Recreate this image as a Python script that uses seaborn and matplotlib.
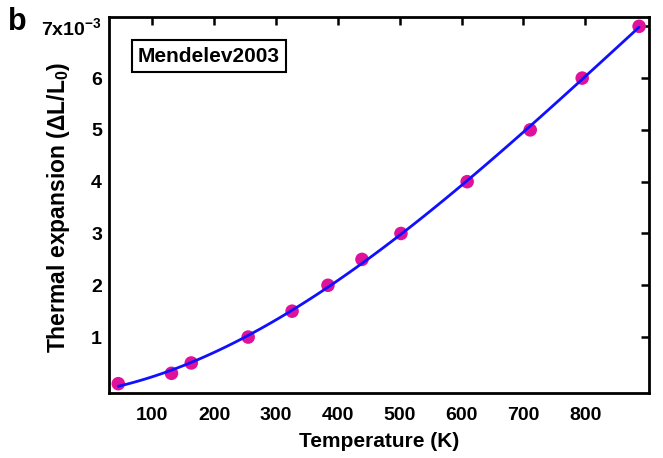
import numpy as np
import pandas as pd
import matplotlib
matplotlib.use("Agg")
import matplotlib.pyplot as plt
import seaborn as sns

# data
temperature = [45, 131, 163, 255, 326, 384, 439, 502, 609, 711, 795, 887]
expansion = [0.1e-3, 0.3e-3, 0.5e-3, 1.0e-3, 1.5e-3, 2.0e-3, 2.5e-3, 3.0e-3,
             4.0e-3, 5.0e-3, 6.0e-3, 7.0e-3]
xticks = [100, 200, 300, 400, 500, 600, 700, 800]
yticks = [1e-3, 2e-3, 3e-3, 4e-3, 5e-3, 6e-3, 7e-3]
ytick_labels = ["1", "2", "3", "4", "5", "6", "7x10$^{-3}$"]
legend_text = "Mendelev2003"

df = pd.DataFrame({"T": temperature, "dL": expansion})

sns.set_style("white")
plt.rcParams["font.family"] = ["Liberation Sans", "DejaVu Sans"]
plt.rcParams["font.weight"] = "bold"
plt.rcParams["mathtext.default"] = "regular"
plt.rcParams["text.color"] = "black"
plt.rcParams["axes.labelcolor"] = "black"
plt.rcParams["xtick.color"] = "black"
plt.rcParams["ytick.color"] = "black"

fig = plt.figure(figsize=(6.63, 4.58), dpi=100)
ax = fig.add_axes([109/663, 1-393/458, (649-109)/663, (393-17)/458])

sns.regplot(data=df, x="T", y="dL", order=3, ci=None, ax=ax,
            scatter_kws=dict(s=95, color="#e0129a", edgecolor="none", alpha=1, zorder=2),
            line_kws=dict(color="#1010ff", lw=2, zorder=3))

ax.set_xlim(30, 903)
ax.set_ylim(-0.08e-3, 7.18e-3)
ax.set_xticks(xticks)
ax.set_xticklabels([str(t) for t in xticks], fontsize=14, fontweight="bold")
ax.set_yticks(yticks)
ax.set_yticklabels(ytick_labels, fontsize=14, fontweight="bold")
ax.tick_params(direction="in", length=6, width=1.8, top=True, right=True,
               labeltop=False, labelright=False)
ax.tick_params(axis="x", pad=10)
ax.tick_params(axis="y", pad=5)
for s in ax.spines.values():
    s.set_visible(True)
    s.set_linewidth(2)
    s.set_color("black")

ax.set_xlabel("Temperature (K)", fontsize=15, fontweight="bold", labelpad=6)
ax.set_ylabel("Thermal expansion ($\\Delta$L/L$_0$)", fontsize=16.5,
              fontweight="bold")
ax.yaxis.set_label_coords(-0.0685, 0.495)

ax.text(0.185, 0.896, legend_text, transform=ax.transAxes, fontsize=15,
        fontweight="bold", va="center", ha="center",
        bbox=dict(boxstyle="square,pad=0.3", fc="white", ec="black", lw=1.5))

fig.text(8/663, 1-22/458, "b", fontsize=22, fontweight="bold", va="center")

fig.savefig("out.png", dpi=100)
